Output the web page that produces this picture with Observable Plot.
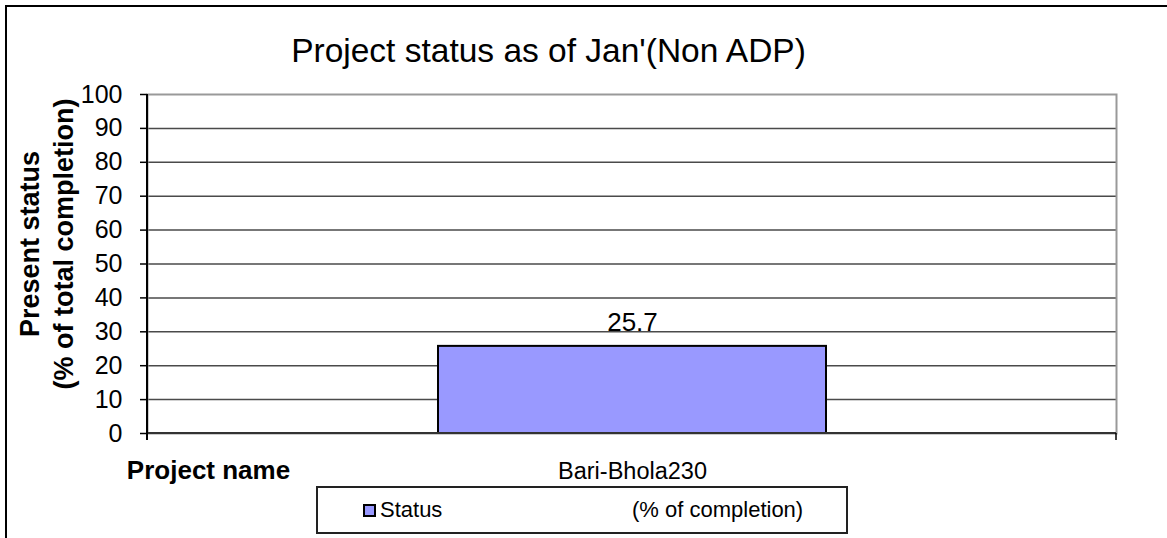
<!DOCTYPE html>
<html>
<head>
<meta charset="utf-8">
<script src="https://cdn.jsdelivr.net/npm/d3@7"></script>
<script src="https://cdn.jsdelivr.net/npm/@observablehq/plot@0.6"></script>
<style>
  html, body { margin: 0; padding: 0; background: #fff; overflow: hidden; }
  body { font-family: "Liberation Sans", Arial, sans-serif; color: #000; }
  #wrap { position: relative; width: 1167px; height: 538px; overflow: hidden; }
  #outer { position: absolute; left: 5px; top: 5px; width: 1180px; height: 560px; border: 2px solid #000; box-sizing: border-box; }
  #title { position: absolute; left: 0; top: 31px; width: 1097px; text-align: center; font-size: 33.5px; line-height: 40px; white-space: nowrap; }
  #chart { position: absolute; left: 0; top: 0; }
  #legend { position: absolute; left: 316px; top: 486px; width: 532px; height: 48px; box-sizing: border-box; border: 2px solid #222; background: #fff; }
  #legend .sw { position: absolute; left: 45px; top: 16px; width: 13px; height: 13px; box-sizing: border-box; border: 2px solid #000; }
  #legend .lab { position: absolute; top: 10px; font-size: 22px; line-height: 24px; white-space: nowrap; }
</style>
</head>
<body>
<div id="wrap">
  <div id="outer"></div>
  <div id="chart"></div>
  <div id="title"></div>
  <div id="legend"></div>
</div>
<script>
// ---- data ----
const categories = ["Bari-Bhola230"];
const statusValues = [25.7];
const yTicks = [0, 10, 20, 30, 40, 50, 60, 70, 80, 90, 100];
const titleText = "Project status as of Jan'(Non ADP)";
const yTitleLines = ["Present status", "(% of total completion)"];
const xTitleText = "Project name";
const seriesName = "Status";
const seriesUnit = "(% of completion)";
const barColor = "#9999FF";

const data = categories.map((c, i) => ({ name: c, value: statusValues[i] }));

// custom axis chrome: left axis line and category-edge ticks
function axisChrome(index, scales, values, dims) {
  const g = d3.create("svg:g").attr("stroke", "#000").attr("stroke-width", 2);
  const x0 = dims.marginLeft, x1 = dims.width - dims.marginRight;
  const yBottom = scales.y(0), yTop = scales.y(100);
  g.append("line").attr("x1", x0).attr("x2", x1).attr("y1", yBottom).attr("y2", yBottom).attr("stroke", "#333");
  g.append("line").attr("x1", x0).attr("x2", x0).attr("y1", yTop).attr("y2", yBottom + 7);
  g.append("line").attr("x1", x1).attr("x2", x1).attr("y1", yBottom).attr("y2", yBottom + 7).attr("stroke-width", 1.5);
  return g.node();
}

const chart = Plot.plot({
  width: 1167,
  height: 538,
  marginTop: 94,
  marginBottom: 105,
  marginLeft: 147,
  marginRight: 51,
  style: { fontFamily: "'Liberation Sans', Arial, sans-serif", color: "#000", background: "transparent", overflow: "visible" },
  x: { type: "band", domain: categories, paddingInner: 0.6, paddingOuter: 0.3, axis: null },
  y: { domain: [0, 100], axis: null },
  marks: [
    Plot.gridY(yTicks.filter(t => t > 0 && t < 100), { stroke: "#4a4a4a", strokeOpacity: 1, strokeWidth: 1.5 }),
    Plot.frame({ stroke: "#999", strokeWidth: 2 }),
    Plot.barY(data, { x: "name", y: "value", fill: barColor, stroke: "#000", strokeWidth: 2 }),
    axisChrome,
    Plot.axisY(yTicks, { tickSize: 7, tickPadding: 18, fontSize: 25, stroke: "#000", strokeWidth: 1.5, label: null }),
    Plot.text(data, { x: "name", y: "value", text: d => String(d.value), lineAnchor: "bottom", dy: -15, fontSize: 26, textAnchor: "middle" }),
    Plot.text(categories, { x: d => d, frameAnchor: "bottom", lineAnchor: "bottom", dy: 45, fontSize: 23.5, text: d => d }),
    Plot.text([xTitleText], { frameAnchor: "bottom-left", textAnchor: "middle", lineAnchor: "bottom", dx: 61, dy: 45, fontSize: 26, fontWeight: "bold", text: d => d }),
    Plot.text([yTitleLines.join("\n")], { frameAnchor: "left", rotate: -90, textAnchor: "middle", lineAnchor: "middle", lineHeight: 1.25, dx: -102, dy: -20, fontSize: 27, fontWeight: "bold", text: d => d })
  ]
});
document.getElementById("chart").appendChild(chart);

document.getElementById("title").textContent = titleText;

const legend = document.getElementById("legend");
const sw = document.createElement("div");
sw.className = "sw";
sw.style.background = barColor;
legend.appendChild(sw);
const l1 = document.createElement("div");
l1.className = "lab"; l1.style.left = "62px"; l1.textContent = seriesName;
legend.appendChild(l1);
const l2 = document.createElement("div");
l2.className = "lab"; l2.style.left = "314px"; l2.textContent = seriesUnit;
legend.appendChild(l2);
</script>
</body>
</html>
